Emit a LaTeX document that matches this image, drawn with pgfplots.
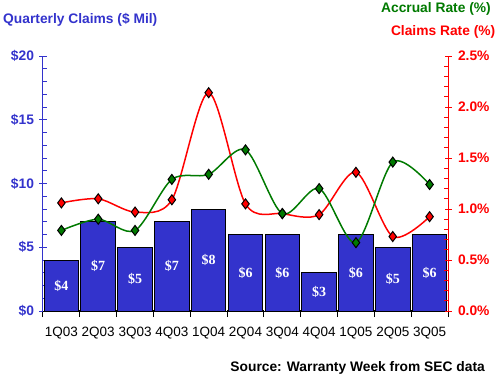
\documentclass[border=0pt]{standalone}
\usepackage{pgfplots}
\usepackage{pgfplotstable}
\pgfplotsset{compat=1.18}
\usepackage{fontspec}
\setmainfont{Liberation Sans}
\newfontfamily\serifbf{Liberation Serif}[BoldFont={Liberation Serif Bold}]
\definecolor{barblue}{HTML}{3333CC}
\definecolor{accgreen}{HTML}{007A00}
\definecolor{clred}{HTML}{FF0000}
\newcommand{\lab}{\fontsize{13.8}{16}\selectfont\bfseries}

\pgfplotstableread{
x v
0 4
1 7
2 5
3 7
4 8
5 6
6 6
7 3
8 6
9 5
10 6
}\bardata

\pgfplotstableread{
x claims accrual
0 1.06 0.79
1 1.10 0.90
2 0.97 0.79
3 1.09 1.29
4 2.14 1.34
5 1.05 1.58
6 0.955 0.955
7 0.945 1.20
8 1.36 0.67
9 0.73 1.46
10 0.925 1.24
}\ratedata

\begin{document}
\begin{tikzpicture}[x=1pt,y=1pt]
\useasboundingbox (0,0) rectangle (500,378);
\begin{axis}[
  at={(43pt,67pt)}, anchor=south west,
  scale only axis, width=405pt, height=255pt,
  xmin=-0.5, xmax=10.5, ymin=0, ymax=20,
  axis x line*=bottom, axis y line*=left,
  x axis line style={black,-, line width=1pt},
  y axis line style={barblue,-, line width=1pt},
  xtick={-0.5,0.5,...,10.5},
  xticklabels={1Q03,2Q03,3Q03,4Q03,1Q04,2Q04,3Q04,4Q04,1Q05,2Q05,3Q05},
  x tick label as interval,
  ytick={0,5,10,15,20},
  yticklabels={\$0,\$5,\$10,\$15,\$20},
  minor y tick num=4,
  tick align=center,
  major tick length=7pt, minor tick length=4pt,
  major x tick style={black, line width=1pt, yshift=-2.5pt},
  major y tick style={barblue, line width=1pt},
  minor y tick style={barblue, line width=1pt, xshift=2pt},
  yticklabel style={text=barblue, font=\lab, xshift=-2pt},
  xticklabel style={text=black, font=\fontsize{13.5}{16}\selectfont, yshift=-9pt},
  clip=false,
]
\addplot[ybar, bar width=0.94, fill=barblue, draw=black, line width=1pt] table[x=x, y=v]{\bardata};
\addplot[draw=none, mark=none, point meta=explicit,
  nodes near coords={\$\pgfmathprintnumber[assume math mode=true]{\pgfplotspointmeta}},
  nodes near coords align=center,
  every node near coord/.style={text=white, font=\serifbf\fontsize{14}{15}\selectfont\bfseries}]
  table[x=x, y expr=\thisrow{v}/2, meta=v]{\bardata};
\end{axis}
\begin{axis}[
  at={(43pt,67pt)}, anchor=south west,
  scale only axis, width=405pt, height=255pt,
  xmin=-0.5, xmax=10.5, ymin=0, ymax=2.5,
  axis x line=none, axis y line*=right,
  y axis line style={clred,-, line width=1pt},
  ytick={0,0.5,1,1.5,2,2.5},
  yticklabels={0.0\%,0.5\%,1.0\%,1.5\%,2.0\%,2.5\%},
  minor y tick num=4,
  tick align=center,
  major tick length=7pt, minor tick length=4pt,
  major y tick style={clred, line width=1pt},
  minor y tick style={clred, line width=1pt, xshift=-2pt},
  yticklabel style={text=clred, font=\lab, xshift=3pt},
  clip=false,
]
\addplot[smooth, color=clred, line width=1.5pt, mark=diamond*,
  mark size=5pt, mark options={fill=clred, draw=black, line width=1pt}]
  table[x=x, y=claims]{\ratedata};
\addplot[smooth, color=accgreen, line width=1.5pt, mark=diamond*,
  mark size=5pt, mark options={fill=accgreen, draw=black, line width=1pt}]
  table[x=x, y=accrual]{\ratedata};
\end{axis}
\node[anchor=west, inner sep=0, text=barblue, font=\lab] at (3,358) {Quarterly Claims (\$ Mil)};
\node[anchor=east, inner sep=0, text=accgreen, font=\lab] at (491,369) {Accrual Rate (\%)};
\node[anchor=east, inner sep=0, text=clred, font=\lab] at (495.5,345.7) {Claims Rate (\%)};
\node[anchor=east, inner sep=0, text=black, font=\lab] at (485,10) {Source: Warranty Week from SEC data};
\end{tikzpicture}
\end{document}
